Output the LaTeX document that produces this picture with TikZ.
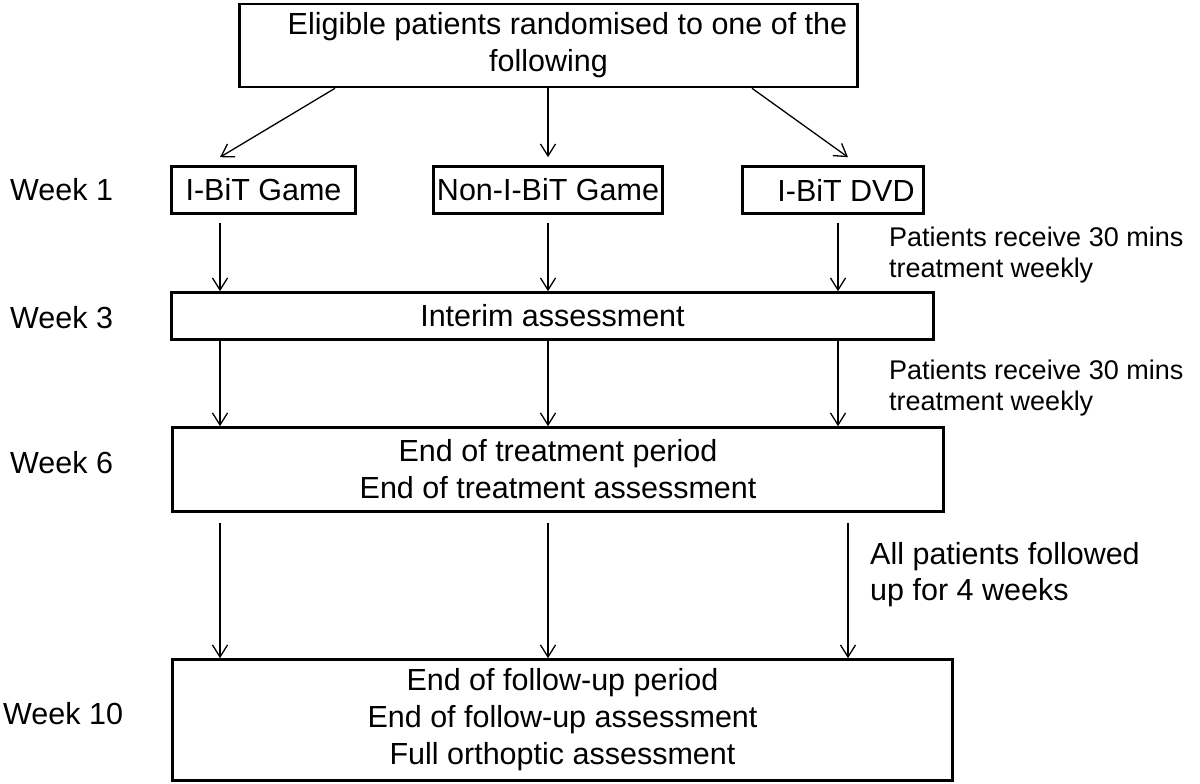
\documentclass[tikz,border=0pt]{standalone}
\usepackage{fontspec}
\setmainfont{Liberation Sans}
\usetikzlibrary{arrows.meta,positioning}

\tikzset{
  box/.style={draw, line width=2.6pt, align=center, inner sep=0pt, font=\fontsize{30.5}{37}\selectfont},
  arr/.style={-{Straight Barb[length=12pt,width=15pt]}, line width=1.3pt},
  week/.style={anchor=west, inner sep=0pt, font=\fontsize{30.5}{35}\selectfont},
  note/.style={anchor=west, align=left, inner sep=0pt, font=\fontsize{27}{31}\selectfont},
}

\begin{document}
\begin{tikzpicture}[x=1pt,y=-1pt]
\useasboundingbox (0,0) rectangle (1200,784);

% Columns of the arrows
\coordinate (c1) at (220,0);
\coordinate (c2) at (548,0);
\coordinate (c3) at (838,0);
\coordinate (c4) at (848,0);

% Week labels
\node[week] (w1) at (10,190) {Week 1};
\node[week] (w3) at (10,318) {Week 3};
\node[week] (w6) at (10,463) {Week 6};
\node[week] (w10) at (3,714) {Week 10};

    \begin{scope} % Boxes
        \node[box, minimum width=618pt, minimum height=83pt] (rand) at (548.5,45.5) {\hspace*{38pt}Eligible patients randomised to one of the\\following};
        \node[box, minimum width=184pt, minimum height=47pt] (g1) at (263.5,190) {I-BiT Game};
        \node[box, minimum width=229pt, minimum height=47pt] (g2) at (548,190) {Non-I-BiT Game};
        \node[box, minimum width=181pt, minimum height=47pt] (g3) at (833,190) {\hspace*{26pt}I-BiT DVD};
        \node[box, minimum width=762pt, minimum height=47pt] (interim) at (552.5,316) {Interim assessment};
        \node[box, minimum width=771pt, minimum height=84pt] (eot) at (558,469.5) {End of treatment period\\End of treatment assessment};
        \node[box, minimum width=780pt, minimum height=121pt] (final) at (562.5,720) {End of follow-up period\\End of follow-up assessment\\Full orthoptic assessment};
    \end{scope}

% Notes beside the arrows
\node[note] (n1) at (889,255) {Patients receive 30 mins\\treatment weekly};
\node[note] (n2) at (889,388) {Patients receive 30 mins\\treatment weekly};
\node[note, font=\fontsize{30.5}{36}\selectfont] (n3) at (870,575) {All patients followed\\up for 4 weeks};

    \begin{scope} % Arrows
        \draw[arr] ([xshift=-213.5pt]rand.south) -- ([yshift=8pt]g1.north -| c1);
        \draw[arr] (rand.south -| c2) -- ([yshift=8pt]g2.north -| c2);
        \draw[arr] ([xshift=203.5pt]rand.south) -- ([yshift=8pt]g3.north -| c4);
        \draw[arr] ([yshift=-8pt]g1.south -| c1) -- (interim.north -| c1);
        \draw[arr] ([yshift=-8pt]g2.south -| c2) -- (interim.north -| c2);
        \draw[arr] ([yshift=-8pt]g3.south -| c3) -- (interim.north -| c3);
        \draw[arr] (interim.south -| c1) -- (eot.north -| c1);
        \draw[arr] (interim.south -| c2) -- (eot.north -| c2);
        \draw[arr] (interim.south -| c3) -- (eot.north -| c3);
        \draw[arr] ([yshift=-10pt]eot.south -| c1) -- (final.north -| c1);
        \draw[arr] ([yshift=-10pt]eot.south -| c2) -- (final.north -| c2);
        \draw[arr] ([yshift=-10pt]eot.south -| c4) -- (final.north -| c4);
    \end{scope}

\end{tikzpicture}
\end{document}
